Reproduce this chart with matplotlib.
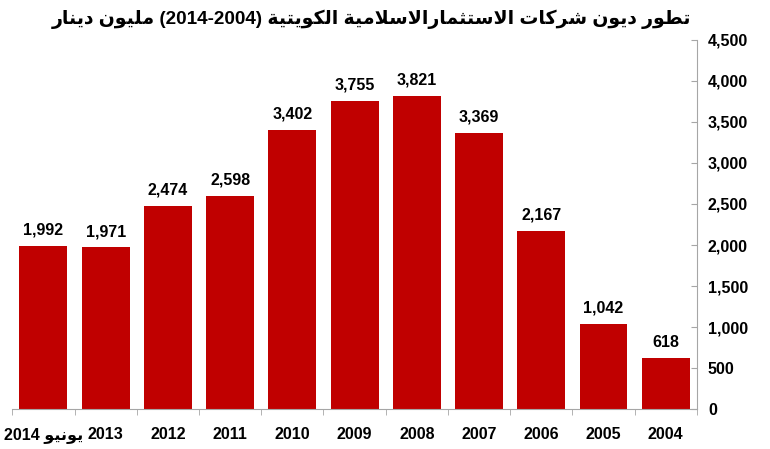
import re
import numpy as np
import matplotlib
matplotlib.use('Agg')
import matplotlib.pyplot as plt
from matplotlib.ticker import FuncFormatter, FixedLocator

plt.rcParams['font.family'] = ['Liberation Sans', 'DejaVu Sans']
plt.rcParams['font.weight'] = 'bold'

# data, left to right as in the picture
years = ['يونيو 2014', '2013', '2012', '2011', '2010', '2009', '2008', '2007', '2006', '2005', '2004']
debt = [1992, 1971, 2474, 2598, 3402, 3755, 3821, 3369, 2167, 1042, 618]
title = 'تطور ديون شركات الاستثمارالاسلامية الكويتية (2014-2004) مليون دينار'

# arabic presentation forms: isolated, final, initial, medial (None -> right-joining only)
FORMS = {
    'ا': ('\uFE8D', '\uFE8E', None, None),
    'ة': ('\uFE93', '\uFE94', None, None),
    'ت': ('\uFE95', '\uFE96', '\uFE97', '\uFE98'),
    'ث': ('\uFE99', '\uFE9A', '\uFE9B', '\uFE9C'),
    'د': ('\uFEA9', '\uFEAA', None, None),
    'ر': ('\uFEAD', '\uFEAE', None, None),
    'س': ('\uFEB1', '\uFEB2', '\uFEB3', '\uFEB4'),
    'ش': ('\uFEB5', '\uFEB6', '\uFEB7', '\uFEB8'),
    'ط': ('\uFEC1', '\uFEC2', '\uFEC3', '\uFEC4'),
    'ك': ('\uFED9', '\uFEDA', '\uFEDB', '\uFEDC'),
    'ل': ('\uFEDD', '\uFEDE', '\uFEDF', '\uFEE0'),
    'م': ('\uFEE1', '\uFEE2', '\uFEE3', '\uFEE4'),
    'ن': ('\uFEE5', '\uFEE6', '\uFEE7', '\uFEE8'),
    'و': ('\uFEED', '\uFEEE', None, None),
    'ي': ('\uFEF1', '\uFEF2', '\uFEF3', '\uFEF4'),
}


def joins_next(c):
    return c in FORMS and FORMS[c][2] is not None


def shape(txt):
    # matplotlib has no arabic shaping, so pick glyph forms and reverse by hand
    out = []
    i = 0
    while i < len(txt):
        c = txt[i]
        if c not in FORMS:
            out.append(c)
            i += 1
            continue
        prev = txt[i - 1] if i > 0 else ''
        after_join = joins_next(prev)
        # lam-alef ligature
        if c == 'ل' and i + 1 < len(txt) and txt[i + 1] == 'ا':
            out.append('\uFEFC' if after_join else '\uFEFB')
            i += 2
            continue
        nxt = txt[i + 1] if i + 1 < len(txt) else ''
        before_join = joins_next(c) and nxt in FORMS
        iso, fin, ini, med = FORMS[c]
        if after_join and before_join:
            out.append(med)
        elif after_join:
            out.append(fin)
        elif before_join:
            out.append(ini)
        else:
            out.append(iso)
        i += 1
    vis = ''.join(out)[::-1]
    vis = re.sub(r'[0-9,\-]+', lambda m: m.group(0)[::-1], vis)
    return vis.translate(str.maketrans('()', ')('))


red = '#C00000'
grey = '#A6A6A6'

fig = plt.figure(figsize=(7.7, 4.49), dpi=100)
ax = fig.add_axes([0.016, 0.089, 0.889, 0.822])

x = np.arange(len(debt))
bars = ax.bar(x, debt, width=0.77, color=red)
for b, v in zip(bars, debt):
    ax.annotate('{:,}'.format(v), (b.get_x() + b.get_width() / 2, v),
                xytext=(0, 6), textcoords='offset points',
                ha='center', va='bottom', fontsize=11.5, fontweight='bold')

ax.set_xlim(-0.5, len(debt) - 0.5)
ax.set_ylim(0, 4500)
ax.yaxis.tick_right()
ax.set_yticks(np.arange(0, 4501, 500))
ax.yaxis.set_major_formatter(FuncFormatter(lambda v, p: '{:,.0f}'.format(v)))
ax.tick_params(axis='y', direction='in', length=4, color=grey, pad=8, labelsize=11.5)
for t in ax.get_yticklabels():
    t.set_horizontalalignment('left')

ax.set_xticks(x)
ax.set_xticklabels([shape(s) for s in years], fontsize=11.5, fontweight='bold')
ax.tick_params(axis='x', length=0, pad=13)
ax.xaxis.set_minor_locator(FixedLocator(np.arange(-0.5, len(debt), 1)))
ax.tick_params(axis='x', which='minor', direction='out', length=4, color=grey)

for s in ['top', 'left']:
    ax.spines[s].set_visible(False)
for s in ['bottom', 'right']:
    ax.spines[s].set_color(grey)

fig.text(0.897, 0.957, shape(title), ha='right', va='center', fontsize=13.6, fontweight='bold')

fig.savefig('out.png', dpi=100)
